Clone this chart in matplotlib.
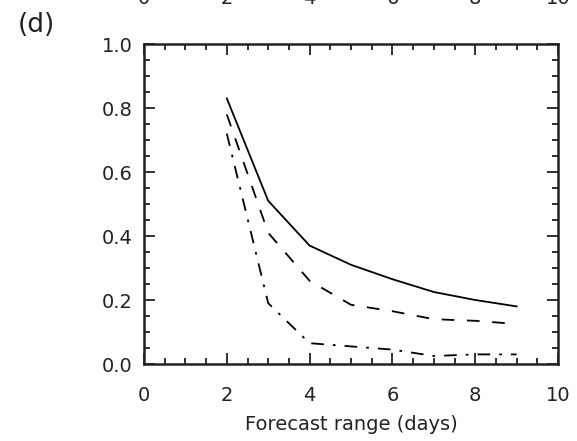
import matplotlib
matplotlib.use("Agg")
import matplotlib.pyplot as plt
from matplotlib.ticker import MultipleLocator

days = [2, 3, 4, 5, 6, 7, 8, 9]
solid_vals = [0.83, 0.51, 0.37, 0.31, 0.265, 0.225, 0.20, 0.18]
dashed_vals = [0.78, 0.41, 0.26, 0.185, 0.165, 0.14, 0.135, 0.125]
dashdot_vals = [0.72, 0.19, 0.065, 0.055, 0.045, 0.025, 0.03, 0.03]
xticks = [0, 2, 4, 6, 8, 10]
yticks = [0.0, 0.2, 0.4, 0.6, 0.8, 1.0]

fig = plt.figure(figsize=(5.77, 4.41), dpi=100)
ax = fig.add_axes([144/577, 1-364/441, (558-144)/577, (364-44)/441])

ax.plot(days, solid_vals, color='black', lw=1.3, ls='-')
ax.plot(days, dashed_vals, color='black', lw=1.3, ls=(0, (7, 7)))
ax.plot(days, dashdot_vals, color='black', lw=1.3, ls=(0, (7, 5, 1.5, 5)))

ax.set_xlim(0, 10)
ax.set_ylim(0, 1)
ax.set_xticks(xticks)
ax.set_xticklabels([str(t) for t in xticks])
ax.set_yticks(yticks)
ax.set_yticklabels([f"{t:.1f}" for t in yticks])
ax.xaxis.set_minor_locator(MultipleLocator(0.5))
ax.yaxis.set_minor_locator(MultipleLocator(0.05))
ax.tick_params(which='both', direction='in', top=True, right=True, width=1.3, colors='#222222')
ax.tick_params(which='major', length=8)
ax.tick_params(which='minor', length=4)
ax.tick_params(axis='x', which='major', pad=16, labelsize=14)
ax.tick_params(axis='y', which='major', pad=8, labelsize=14)
for s in ax.spines.values():
    s.set_linewidth(1.8)
    s.set_color('#222222')

ax.set_xlabel("Forecast range (days)", fontsize=14, labelpad=7, color='#222222')

fig.text(18/577, 1-25/441, "(d)", fontsize=19, va='center', ha='left', color='#222222')

# clipped tick labels of the panel above
for t in xticks:
    xf = (144 + t * (558-144)/10) / 577
    fig.text(xf, 1-4/441, str(t), fontsize=14, ha='center', va='baseline', color='#222222')

fig.savefig("out.png", dpi=100)
